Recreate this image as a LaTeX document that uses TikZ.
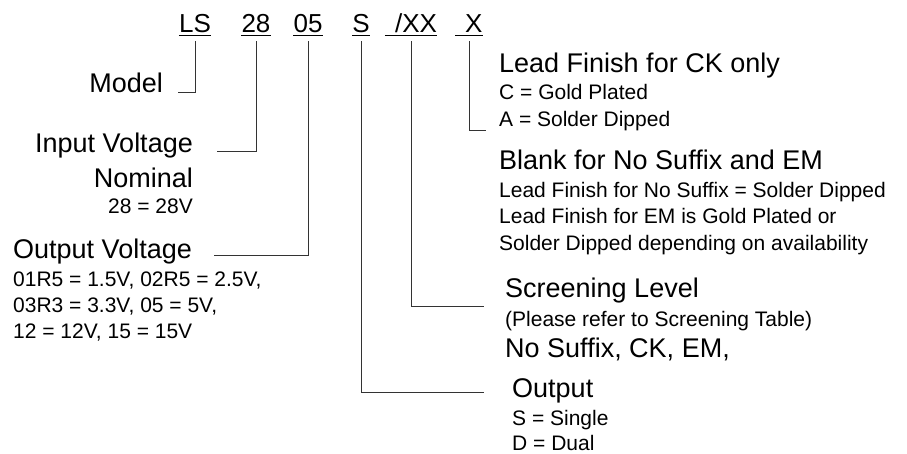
\documentclass[tikz,border=0pt]{standalone}
\usepackage{fontspec}
\setmainfont{Liberation Sans}
\begin{document}
\begin{tikzpicture}[x=1pt,y=-1pt,
  big/.style={inner sep=0pt,font=\fontsize{27}{31}\selectfont},
  small/.style={inner sep=0pt,font=\fontsize{21}{25}\selectfont},
  code/.style={inner sep=0pt,font=\fontsize{26}{30}\selectfont,anchor=base},
  conn/.style={line width=1pt,draw=black!80},
  uline/.style={line width=1pt,draw=black}]
\useasboundingbox[fill=white] (0,0) rectangle (907,453);
% code row
\node[code] (ls) at (195,32) {LS};
\node[code] (n28) at (256,32) {28};
\node[code] (n05) at (308,32) {05};
\node[code] (s) at (361,32) {S};
\node[code,text width=52pt,align=right] (xx) at (411,32) {/XX};
\node[code,text width=27pt,align=right] (x) at (469,32) {X};
\foreach \n in {ls,n28,n05,s,xx,x}{
  \draw[uline] ([yshift=-3pt]\n.base west) -- ([yshift=-3pt]\n.base east);
}
% left labels
\node[big,anchor=base east] (model) at (163,92) {Model};
\node[big,anchor=base east] (inp) at (193,152) {Input Voltage};
\node[big,anchor=base east] (nom) at (193,187) {Nominal};
\node[small,anchor=base east] (v28) at (193,213) {28 = 28V};
\node[big,anchor=base west] (outv) at (13,258) {Output Voltage};
\node[small,anchor=base west] (o1) at (13,286) {01R5 = 1.5V, 02R5 = 2.5V,};
\node[small,anchor=base west] (o2) at (13,312) {03R3 = 3.3V, 05 = 5V,};
\node[small,anchor=base west] (o3) at (13,338) {12 = 12V, 15 = 15V};
% right labels
\node[big,anchor=base west] (lf) at (499,72) {Lead Finish for CK only};
\node[small,anchor=base west] (lf1) at (499,99) {C = Gold Plated};
\node[small,anchor=base west] (lf2) at (499,126) {A = Solder Dipped};
\node[big,anchor=base west] (bl) at (499,169) {Blank for No Suffix and EM};
\node[small,anchor=base west] (bl1) at (499,197) {Lead Finish for No Suffix = Solder Dipped};
\node[small,anchor=base west] (bl2) at (499,223) {Lead Finish for EM is Gold Plated or};
\node[small,anchor=base west] (bl3) at (499,250) {Solder Dipped depending on availability};
\node[big,anchor=base west] (sc) at (505,297) {Screening Level};
\node[small,anchor=base west] (sc1) at (505,326) {(Please refer to Screening Table)};
\node[big,anchor=base west] (sc2) at (505,357) {No Suffix, CK, EM,};
\node[big,anchor=base west] (out) at (512,397) {Output};
\node[small,anchor=base west] (out1) at (512,425) {S = Single};
\node[small,anchor=base west] (out2) at (512,450) {D = Dual};
% connector ends
\coordinate (eModel) at (178,92);
\coordinate (eInp) at (217,151);
\coordinate (eOutv) at (214,255);
\coordinate (eLf) at (486,130);
\coordinate (eSc) at (484,306);
\coordinate (eOut) at (484,392);
% connectors
\draw[conn] ([yshift=-9pt]ls.base) |- (eModel);
\draw[conn] ([yshift=-9pt]n28.base) |- (eInp);
\draw[conn] ([yshift=-9pt]n05.base) |- (eOutv);
\draw[conn] ([yshift=-9pt]s.base) |- (eOut);
\draw[conn] ([yshift=-9pt]xx.base) |- (eSc);
\draw[conn] ([yshift=-9pt]x.base) |- (eLf);
\end{tikzpicture}
\end{document}
